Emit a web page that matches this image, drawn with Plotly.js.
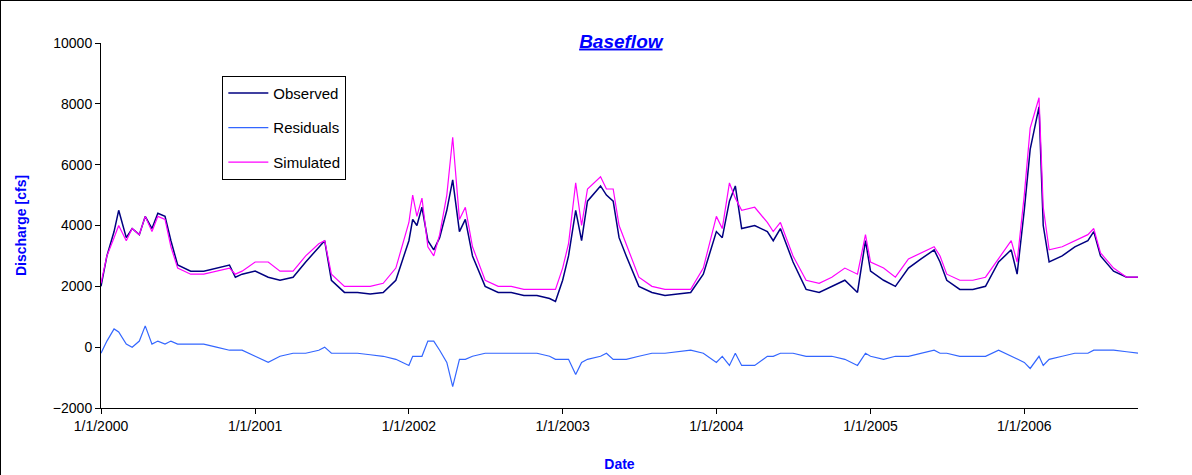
<!DOCTYPE html>
<html><head><meta charset="utf-8">
<script src="https://cdn.plot.ly/plotly-3.0.1.min.js"></script>
<style>body{margin:0}#c{width:1192px;height:475px;box-sizing:border-box;border:1px solid #000}</style>
</head><body><div id="c"></div>
<script>
const dates=["2000-01-01","2000-01-15","2000-02-01","2000-02-12","2000-03-01","2000-03-15","2000-04-01","2000-04-15","2000-05-01","2000-05-15","2000-06-01","2000-06-15","2000-07-01","2000-08-01","2000-09-01","2000-10-01","2000-11-01","2000-11-15","2000-12-01",
"2001-01-01","2001-02-01","2001-03-01","2001-04-01","2001-05-01","2001-06-01","2001-06-15","2001-07-01","2001-08-01","2001-09-01","2001-10-01","2001-11-01","2001-12-01",
"2002-01-01","2002-01-10","2002-01-20","2002-02-01","2002-02-15","2002-03-01","2002-03-15","2002-04-01","2002-04-15","2002-05-01","2002-05-15","2002-06-01","2002-07-01","2002-08-01","2002-09-01","2002-10-01","2002-11-01","2002-12-01","2002-12-15",
"2003-01-01","2003-01-15","2003-02-01","2003-02-15","2003-03-01","2003-04-01","2003-04-15","2003-05-01","2003-05-15","2003-06-01","2003-07-01","2003-08-01","2003-09-01","2003-10-01","2003-11-01","2003-12-01",
"2004-01-01","2004-01-15","2004-02-01","2004-02-15","2004-03-01","2004-04-01","2004-05-01","2004-05-15","2004-06-01","2004-07-01","2004-08-01","2004-09-01","2004-10-01","2004-11-01","2004-12-01","2004-12-20",
"2005-01-01","2005-02-01","2005-03-01","2005-04-01","2005-05-01","2005-06-01","2005-06-15","2005-07-01","2005-08-01","2005-09-01","2005-10-01","2005-11-01","2005-12-01","2005-12-15",
"2006-01-01","2006-01-15","2006-02-05","2006-02-15","2006-03-01","2006-04-01","2006-05-01","2006-06-01","2006-06-15","2006-07-01","2006-08-01","2006-09-01","2006-10-01"];
const observed=[2000,3000,3800,4500,3600,3900,3700,4300,3900,4400,4300,3500,2700,2500,2500,2600,2700,2300,2400,
2500,2300,2200,2300,2800,3300,3500,2200,1800,1800,1750,1800,2200,
3500,4200,4000,4600,3500,3200,3600,4500,5500,3800,4200,3000,2000,1800,1800,1700,1700,1600,1500,
2200,3000,4500,3500,4800,5300,5000,4800,3600,3000,2000,1800,1700,1750,1800,2400,
3800,3600,4800,5300,3900,4000,3800,3500,3900,2800,1900,1800,2000,2200,1800,3500,
2500,2200,2000,2600,2900,3200,2800,2200,1900,1900,2000,2800,3200,2400,
4500,6500,7900,4000,2800,3000,3300,3500,3800,3000,2500,2300,2300];
const simulated=[2100,3000,3600,4000,3500,3900,3700,4300,3800,4300,4200,3300,2600,2400,2400,2500,2600,2400,2500,
2800,2800,2500,2500,3000,3400,3500,2400,2000,2000,2000,2100,2600,
4100,5000,4300,4900,3300,3000,3700,5000,6900,4200,4600,3300,2200,2000,2000,1900,1900,1900,1900,
2600,3400,5400,4000,5200,5600,5200,5200,4000,3400,2300,2000,1900,1900,1900,2600,
4300,3900,5400,4900,4500,4600,4100,3800,4100,3000,2200,2100,2300,2600,2400,3700,
2800,2600,2300,2900,3100,3300,3000,2400,2200,2200,2300,2900,3500,2800,
5000,7200,8200,4600,3200,3300,3500,3700,3900,3100,2600,2300,2300];
const residuals=[-200,200,600,500,100,0,200,700,100,200,100,200,100,100,100,0,-100,-100,-100,
-300,-500,-300,-200,-200,-100,0,-200,-200,-200,-250,-300,-400,
-600,-300,-300,-300,200,200,-100,-500,-1300,-400,-400,-300,-200,-200,-200,-200,-200,-300,-400,
-400,-400,-900,-500,-400,-300,-200,-400,-400,-400,-300,-200,-200,-150,-100,-200,
-500,-300,-600,-200,-600,-600,-300,-300,-200,-200,-300,-300,-300,-400,-600,-200,
-300,-400,-300,-300,-200,-100,-200,-200,-300,-300,-300,-100,-300,-400,
-500,-700,-300,-600,-400,-300,-200,-200,-100,-100,-100,-150,-200];
const traces=[
 {x:dates,y:observed,name:'Observed',legendgroup:'a',mode:'lines',line:{color:'#000080',width:1.5}},
 {x:dates,y:residuals,name:'Residuals',legendgroup:'b',mode:'lines',line:{color:'#3366FF',width:1.2}},
 {x:dates,y:simulated,name:'Simulated',legendgroup:'c',mode:'lines',line:{color:'#FF00FF',width:1.2}}
];
const tickvals=["2000-01-01","2001-01-01","2002-01-01","2003-01-01","2004-01-01","2005-01-01","2006-01-01"];
const ticktext=["1/1/2000","1/1/2001","1/1/2002","1/1/2003","1/1/2004","1/1/2005","1/1/2006"];
const layout={
 width:1192,height:475,margin:{l:100,r:55,t:42,b:68},
 paper_bgcolor:'#fff',plot_bgcolor:'#fff',
 font:{family:'Liberation Sans, Arial',size:14,color:'#000'},
 title:{text:'<b><i><u>Baseflow</u></i></b>',font:{size:19,color:'#0000FF'},x:0.52,y:0.93,xanchor:'center'},
 xaxis:{type:'date',range:['2000-01-01','2006-09-28'],tickvals:tickvals,ticktext:ticktext,showgrid:false,zeroline:false,
  showline:true,linecolor:'#000',ticks:'outside',ticklen:5,tickcolor:'#000',
  title:{text:'<b>Date</b>',font:{size:14,color:'#0000FF'},standoff:26}},
 yaxis:{range:[-2000,10000],dtick:2000,tickformat:'d',showgrid:false,zeroline:false,showline:true,linecolor:'#000',ticks:'outside',ticklen:5,tickcolor:'#000',
  title:{text:'<b>Discharge [cfs]</b>',font:{size:14,color:'#0000FF'},standoff:22}},
 legend:{x:0.117,y:0.91,xanchor:'left',yanchor:'top',bordercolor:'#000',borderwidth:1,bgcolor:'#fff',font:{size:15},itemwidth:40,tracegroupgap:12},
 showlegend:true
};
Plotly.newPlot('c',traces,layout,{displayModeBar:false,staticPlot:true});
</script></body></html>
